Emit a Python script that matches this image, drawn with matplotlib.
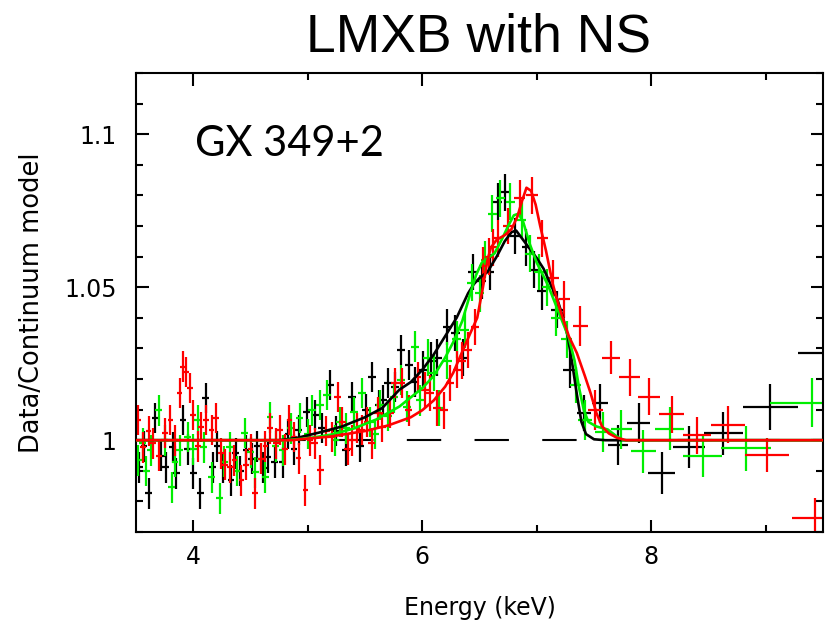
import numpy as np
import matplotlib
matplotlib.use("Agg")
import matplotlib.pyplot as plt
from matplotlib.ticker import MultipleLocator, FuncFormatter

# ratio data (energy keV, data/continuum), three observations
bk_e = [3.53, 3.57, 3.61, 3.67, 3.72, 3.76, 3.82, 3.85, 3.91, 3.95,
        4.00, 4.06, 4.11, 4.17, 4.21, 4.26, 4.33, 4.37, 4.41, 4.46,
        4.51, 4.56, 4.61, 4.65, 4.71, 4.78, 4.83, 4.88, 4.92, 4.99,
        5.06, 5.12, 5.19, 5.25, 5.33, 5.39, 5.46, 5.51, 5.56, 5.62,
        5.66, 5.70, 5.76, 5.81, 5.88, 5.94, 6.01, 6.08, 6.13, 6.22,
        6.29, 6.36, 6.44, 6.52, 6.59, 6.66, 6.72, 6.81, 6.91, 6.98,
        7.05, 7.18, 7.29, 7.41, 7.55, 7.71, 7.89, 8.09, 8.33, 8.63,
        9.04, 9.62]
bk_v = [0.9911, 0.998, 0.9826, 1.0072, 0.995, 0.9911, 0.9977, 0.9892, 1.0066, 0.997,
        0.9892, 0.9826, 1.0138, 0.9911, 0.998, 0.9911, 0.9869, 0.9957, 0.990, 0.9967,
        0.994, 0.998, 0.991, 0.9944, 0.9928, 0.9928, 1.002, 0.997, 1.0033, 1.0092,
        1.0082, 1.004, 1.018, 1.003, 0.9967, 1.0141, 0.998, 1.010, 1.0207, 1.0115,
        1.013, 1.0187, 1.0174, 1.0295, 1.0246, 1.019, 1.023, 1.026, 1.027, 1.037,
        1.035, 1.027, 1.055, 1.052, 1.055, 1.078, 1.081, 1.0667, 1.063, 1.0557,
        1.0486, 1.0426, 1.023, 1.0089, 1.012, 0.9984, 1.0055, 0.9893, 0.9978, 1.0022,
        1.0109, 1.0284]
bk_xe = [0.03] * 30 + [0.035] * 16 + [0.04] * 14 + \
        [0.05, 0.06, 0.06, 0.06, 0.07, 0.09, 0.10, 0.12, 0.14, 0.17, 0.24, 0.34]
bk_ye = [0.005] * 46 + [0.006] * 14 + \
        [0.006, 0.006, 0.006, 0.006, 0.0065, 0.0065, 0.0065, 0.007, 0.007, 0.007, 0.0075, 0.008]

gr_e = [3.52, 3.56, 3.59, 3.63, 3.70, 3.75, 3.81, 3.84, 3.88, 3.95,
        4.00, 4.04, 4.09, 4.16, 4.23, 4.27, 4.32, 4.38, 4.45, 4.50,
        4.54, 4.59, 4.63, 4.67, 4.72, 4.78, 4.85, 4.93, 5.00, 5.04,
        5.11, 5.17, 5.24, 5.28, 5.33, 5.40, 5.47, 5.54, 5.59, 5.63,
        5.70, 5.75, 5.81, 5.87, 5.94, 5.98, 6.05, 6.10, 6.15, 6.22,
        6.30, 6.37, 6.43, 6.50, 6.55, 6.61, 6.68, 6.77, 6.87, 6.94,
        7.02, 7.09, 7.17, 7.26, 7.34, 7.42, 7.58, 7.74, 7.93, 8.16,
        8.45, 8.83, 9.40]
gr_v = [0.9934, 0.999, 0.990, 0.9967, 1.0098, 1.000, 0.9846, 0.993, 0.9967, 1.001,
        0.997, 1.0066, 0.9977, 0.9879, 0.981, 0.993, 0.9977, 0.990, 1.0023, 0.996,
        0.9895, 0.994, 0.9879, 1.0075, 0.998, 0.9967, 1.0039, 1.0072, 1.002, 1.0098,
        1.0115, 1.0148, 1.000, 1.006, 1.0039, 1.0092, 1.0154, 1.0059, 1.002, 1.0115,
        1.008, 1.014, 1.0197, 1.011, 1.0306, 1.013, 1.027, 1.022, 1.0105, 1.026,
        1.033, 1.036, 1.0515, 1.048, 1.059, 1.074, 1.079, 1.078, 1.072, 1.061,
        1.055, 1.050, 1.040, 1.033, 1.018, 1.0066, 1.0027, 1.0035, 0.9964, 1.0038,
        0.9949, 0.9973, 1.0122]
gr_xe = [0.03] * 29 + [0.035] * 17 + [0.04] * 14 + \
        [0.04, 0.04, 0.045, 0.045, 0.05, 0.06, 0.07, 0.09, 0.11, 0.13, 0.17, 0.22, 0.36]
gr_ye = [0.005] * 46 + [0.006] * 14 + \
        [0.006, 0.006, 0.006, 0.006, 0.006, 0.0065, 0.0065, 0.0065, 0.007, 0.007, 0.007, 0.0075, 0.008]

rd_e = [3.52, 3.56, 3.61, 3.65, 3.70, 3.75, 3.80, 3.84, 3.88, 3.91,
        3.94, 3.97, 4.00, 4.04, 4.07, 4.11, 4.16, 4.20, 4.24, 4.28,
        4.32, 4.36, 4.42, 4.46, 4.50, 4.54, 4.59, 4.63, 4.67, 4.72,
        4.76, 4.80, 4.84, 4.88, 4.92, 4.98, 5.02, 5.06, 5.11, 5.16,
        5.21, 5.26, 5.30, 5.35, 5.39, 5.43, 5.47, 5.52, 5.56, 5.61,
        5.65, 5.72, 5.76, 5.82, 5.88, 5.96, 6.02, 6.07, 6.13, 6.19,
        6.24, 6.30, 6.35, 6.40, 6.46, 6.53, 6.58, 6.62, 6.66, 6.75,
        6.85, 6.96, 7.05, 7.14, 7.24, 7.38, 7.51, 7.65, 7.81, 7.98,
        8.18, 8.40, 8.67, 9.01, 9.43]
rd_v = [1.0066, 0.9977, 1.003, 0.999, 0.995, 1.0023, 1.0066, 1.000, 1.0154, 1.024,
        1.0223, 1.017, 1.0082, 0.998, 1.0043, 1.0066, 1.0033, 1.0072, 0.9957, 0.992,
        0.9911, 0.9934, 0.9869, 0.992, 0.997, 0.9826, 0.994, 0.998, 1.0039, 0.999,
        1.0033, 0.997, 1.0066, 1.001, 0.9941, 0.9836, 1.000, 0.999, 0.9902, 1.003,
        1.001, 1.0141, 1.0059, 0.997, 1.000, 1.004, 1.0033, 1.006, 0.999, 1.009,
        1.0043, 1.0089, 1.0187, 1.0187, 1.0098, 1.0207, 1.0164, 1.0154, 1.0105, 1.0098,
        1.0187, 1.023, 1.026, 1.0295, 1.037, 1.057, 1.060, 1.063, 1.066, 1.070,
        1.079, 1.080, 1.066, 1.053, 1.046, 1.0372, 1.0098, 1.0270, 1.0205, 1.0142,
        1.0084, 1.0016, 1.0051, 0.9951, 0.9745]
rd_xe = [0.025] * 36 + [0.03] * 20 + [0.035] * 13 + \
        [0.045, 0.05, 0.05, 0.045, 0.05, 0.05, 0.065, 0.065, 0.08, 0.09, 0.10, 0.11, 0.12, 0.15, 0.19, 0.20]
rd_ye = [0.005] * 56 + [0.006] * 13 + \
        [0.006, 0.006, 0.006, 0.006, 0.006, 0.006, 0.0065, 0.0065, 0.0055, 0.006, 0.006, 0.006, 0.006, 0.006, 0.0055, 0.0065]

# fitted line models
bk_me = [3.5, 4.75, 4.9, 5.1, 5.3, 5.5, 5.65, 5.8, 5.9, 6.0, 6.1, 6.2, 6.3, 6.4, 6.45, 6.5,
         6.57, 6.65, 6.72, 6.78, 6.82, 6.87, 6.93, 7.0, 7.06, 7.12, 7.18, 7.23, 7.27, 7.31,
         7.35, 7.39, 7.43, 7.5, 7.6, 9.5]
bk_mv = [1.0, 1.0, 1.0007, 1.0025, 1.0045, 1.0075, 1.0105, 1.0165, 1.019, 1.023, 1.028, 1.034,
         1.040, 1.048, 1.051, 1.053, 1.055, 1.060, 1.065, 1.068, 1.0685, 1.066, 1.063, 1.0595,
         1.056, 1.051, 1.046, 1.040, 1.034, 1.025, 1.015, 1.006, 1.002, 1.0003, 1.0, 1.0]
gr_me = [3.5, 4.8, 5.0, 5.2, 5.4, 5.6, 5.8, 6.0, 6.1, 6.2, 6.27, 6.35, 6.42, 6.47, 6.52, 6.58,
         6.63, 6.7, 6.75, 6.8, 6.84, 6.88, 6.94, 7.0, 7.1, 7.2, 7.28, 7.33, 7.37, 7.41, 7.45,
         7.52, 7.62, 7.7, 7.76, 9.5]
gr_mv = [1.0, 1.0, 1.0006, 1.0018, 1.0038, 1.0068, 1.011, 1.017, 1.021, 1.027, 1.032, 1.039,
         1.048, 1.054, 1.058, 1.0598, 1.061, 1.066, 1.070, 1.0735, 1.074, 1.0715, 1.064, 1.058,
         1.0505, 1.041, 1.0335, 1.026, 1.017, 1.010, 1.006, 1.0045, 1.0035, 1.0012, 1.0, 1.0]
rd_me = [3.5, 4.85, 5.2, 5.5, 5.7, 5.9, 6.0, 6.1, 6.2, 6.27, 6.35, 6.42, 6.48, 6.53, 6.57, 6.6,
         6.65, 6.72, 6.78, 6.83, 6.87, 6.91, 6.95, 6.99, 7.03, 7.08, 7.14, 7.2, 7.28, 7.35,
         7.42, 7.47, 7.52, 7.57, 7.63, 7.7, 7.78, 9.5]
rd_mv = [1.0, 1.0, 1.0012, 1.003, 1.0048, 1.0075, 1.0098, 1.013, 1.0175, 1.022, 1.029, 1.035,
         1.040, 1.050, 1.059, 1.063, 1.0655, 1.067, 1.069, 1.073, 1.078, 1.0825, 1.0815, 1.077,
         1.070, 1.062, 1.051, 1.043, 1.034, 1.0285, 1.021, 1.0154, 1.009, 1.0045, 1.0022,
         1.0008, 1.0, 1.0]

fig = plt.figure(figsize=(8.33, 6.27), dpi=100)
ax = fig.add_axes([0.1633, 0.1515, 0.8247, 0.7321])

ax.plot([3.5, 9.5], [1.0, 1.0], color="black", lw=1.5, ls=(0, (16.5, 16)), zorder=1)

for e, v, xe, ye, c in [(bk_e, bk_v, bk_xe, bk_ye, "black"),
                        (gr_e, gr_v, gr_xe, gr_ye, "#00ee00"),
                        (rd_e, rd_v, rd_xe, rd_ye, "#ff0000")]:
    ax.errorbar(e, v, xerr=xe, yerr=ye, fmt="none", ecolor=c, elinewidth=1.6, capsize=0, zorder=2)

ax.plot(bk_me, bk_mv, color="black", lw=1.9, zorder=3)
ax.plot(gr_me, gr_mv, color="#00ee00", lw=1.9, zorder=3)
ax.plot(rd_me, rd_mv, color="#ff0000", lw=1.9, zorder=3)

ax.set_xlim(3.5, 9.5)
ax.set_ylim(0.97, 1.12)
ax.xaxis.set_major_locator(MultipleLocator(2))
ax.xaxis.set_minor_locator(MultipleLocator(1))
ax.yaxis.set_major_locator(MultipleLocator(0.05))
ax.yaxis.set_minor_locator(MultipleLocator(0.01))
ax.yaxis.set_major_formatter(FuncFormatter(lambda v, p: "%g" % round(v, 3)))
ax.tick_params(which="both", direction="in", top=True, right=True, width=1.5, labelsize=17)
ax.tick_params(which="major", length=9)
ax.tick_params(which="minor", length=5)
ax.tick_params(axis="x", pad=9)
ax.tick_params(axis="y", pad=14)
for s in ax.spines.values():
    s.set_linewidth(1.5)

ax.set_xlabel("Energy (keV)", fontsize=17, labelpad=20)
ax.set_ylabel("Data/Continuum model", fontsize=18.5, labelpad=14)

ax.text(0.086, 0.82, "GX 349+2", transform=ax.transAxes, fontsize=30, family="Lato")
fig.text(0.574, 0.94, "LMXB with NS", ha="center", va="center", fontsize=38.5,
         family="Liberation Sans")

fig.savefig("out.png", dpi=100)
